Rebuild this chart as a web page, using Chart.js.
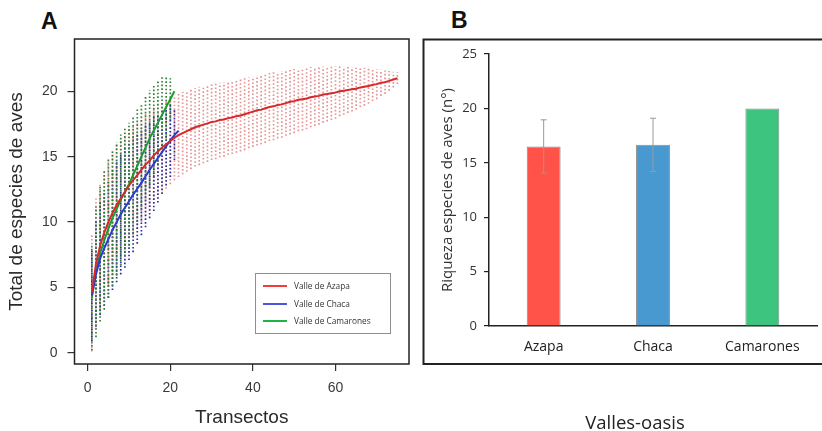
<!DOCTYPE html>
<html lang="es">
<head>
<meta charset="utf-8">
<script src="https://cdn.jsdelivr.net/npm/chart.js@4/dist/chart.umd.min.js"></script>
<style>
  html, body { margin: 0; padding: 0; background: #fff; }
  body { width: 822px; height: 431px; position: relative; overflow: hidden; font-family: 'Liberation Sans', Arial, sans-serif; }
  canvas { position: absolute; top: 0; }
  #graficoA { left: 0; }
  #graficoB { left: 420px; }
  .letra { position: absolute; font-weight: bold; font-size: 23px; line-height: 22px; color: #111; }
  #leyenda { position: absolute; left: 255px; top: 273px; width: 134px; height: 56px; border: 1px solid #8f8f8f; padding-top: 3px; box-sizing: content-box; font-family: 'Open Sans', sans-serif; font-size: 8.3px; color: #333; }
  #leyenda .item { height: 17.5px; line-height: 17.5px; position: relative; padding-left: 38px; white-space: nowrap; }
  #leyenda .muestra { position: absolute; left: 6.5px; top: 8px; width: 24px; height: 2px; }
  #tituloB { position: absolute; left: 535px; top: 410px; width: 200px; text-align: center; font-family: 'Open Sans', sans-serif; font-size: 18.5px; line-height: 24px; color: #222; }
</style>
</head>
<body>
<div class="letra" style="left:41px; top:10px">A</div>
<div class="letra" style="left:451px; top:9px">B</div>
<canvas id="graficoA" width="420" height="431"></canvas>
<canvas id="graficoB" width="402" height="431"></canvas>
<div id="leyenda"></div>
<div id="tituloB">Valles-oasis</div>
<script>
// Panel A: curvas de acumulacion (media por n de transectos, x = 1..n)
const azapaMedia = [4.6, 6.8, 8.2, 9.2, 10.0, 10.7, 11.3, 11.8, 12.3, 12.8,
  13.2, 13.6, 14.0, 14.4, 14.7, 15.1, 15.4, 15.7, 15.95, 16.2,
  16.45, 16.65, 16.8, 16.95, 17.1, 17.25, 17.35, 17.45, 17.55, 17.65,
  17.7, 17.8, 17.85, 17.95, 18.0, 18.1, 18.15, 18.25, 18.35, 18.45,
  18.55, 18.6, 18.7, 18.8, 18.85, 18.95, 19.0, 19.1, 19.2, 19.25,
  19.35, 19.4, 19.45, 19.55, 19.6, 19.65, 19.75, 19.8, 19.85, 19.9,
  20.0, 20.05, 20.1, 20.15, 20.2, 20.3, 20.35, 20.4, 20.5, 20.55,
  20.65, 20.7, 20.8, 20.9, 21.0];
const azapaIc = [4.5, 5.0, 4.8, 4.8, 4.8, 4.7, 4.6, 4.5, 4.4, 4.3,
  4.2, 4.1, 4.0, 3.9, 3.8, 3.7, 3.6, 3.5, 3.4, 3.3,
  3.25, 3.2, 3.15, 3.1, 3.05, 3.0, 3.0, 2.95, 2.95, 2.9,
  2.9, 2.85, 2.85, 2.8, 2.8, 2.8, 2.75, 2.75, 2.7, 2.7,
  2.7, 2.65, 2.65, 2.6, 2.6, 2.55, 2.55, 2.5, 2.5, 2.45,
  2.4, 2.4, 2.35, 2.3, 2.25, 2.2, 2.15, 2.1, 2.05, 2.0,
  1.9, 1.85, 1.75, 1.7, 1.6, 1.5, 1.45, 1.35, 1.25, 1.15,
  1.0, 0.9, 0.75, 0.6, 0.45];

const chacaMedia = [4.4, 6.0, 7.2, 8.0, 8.7, 9.4, 10.0, 10.6, 11.1, 11.6,
  12.1, 12.55, 13.0, 13.5, 14.0, 14.45, 14.9, 15.35, 15.8, 16.25,
  16.65, 17.0];
const chacaIc = [3.5, 4.0, 4.3, 4.4, 4.5, 4.6, 4.6, 4.6, 4.6, 4.5,
  4.4, 4.2, 4.0, 3.9, 3.7, 3.6, 3.4, 3.2, 3.0, 2.8,
  1.9, 0];

const camaronesMedia = [4.2, 6.2, 7.6, 8.6, 9.5, 10.3, 11.0, 11.7, 12.3, 12.9,
  13.6, 14.3, 15.0, 15.7, 16.4, 17.0, 17.6, 18.2, 18.8, 19.4,
  20.0];
const camaronesIc = [4.0, 5.0, 5.2, 5.3, 5.3, 5.2, 5.1, 5.0, 4.9, 4.7,
  4.5, 4.3, 4.1, 3.9, 3.7, 3.5, 3.2, 2.9, 2.4, 1.6,
  0];

const nombresSeries = ['Valle de Azapa', 'Valle de Chaca', 'Valle de Camarones'];
const ticksXA = [0, 20, 40, 60];
const ticksYA = [0, 5, 10, 15, 20];

// Panel B: riqueza por valle
const valles = ['Azapa', 'Chaca', 'Camarones'];
const riqueza = [16.5, 16.65, 20];
const riquezaError = [2.45, 2.45, null];

const coloresLinea = ['#d62a2a', '#2b3bd0', '#1f9a30'];
const coloresMuestra = ['#f43c3c', '#4a55e0', '#22b24a'];
const coloresPuntos = ['rgba(222,120,120,0.8)', '#2e2e9c', '#2d8036'];
const coloresBarras = ['#ff5249', '#4799d0', '#3dc47f'];

function puntosLinea(media) {
  return media.map((v, i) => ({ x: i + 1, y: v }));
}

function puntosColumnas(media, ic) {
  const pts = [];
  media.forEach((v, i) => {
    if (!ic[i]) return;
    pts.push({ x: i + 1, y: v - ic[i] }, { x: i + 1, y: v + ic[i] }, { x: i + 1, y: null });
  });
  return pts;
}

function datasetLinea(media, color) {
  return { data: puntosLinea(media), showLine: true, borderColor: color, borderWidth: 2, pointRadius: 0, tension: 0 };
}

function datasetColumnas(media, ic, color) {
  return {
    data: puntosColumnas(media, ic), showLine: true, spanGaps: false,
    borderColor: color, borderWidth: 1.7, borderDash: [1.6, 2.1], borderCapStyle: 'butt', pointRadius: 0
  };
}

// leyenda del panel A
const leyenda = document.getElementById('leyenda');
nombresSeries.forEach((nombre, i) => {
  const item = document.createElement('div');
  item.className = 'item';
  const muestra = document.createElement('span');
  muestra.className = 'muestra';
  muestra.style.background = coloresMuestra[i];
  item.appendChild(muestra);
  item.appendChild(document.createTextNode(nombre));
  leyenda.appendChild(item);
});

const marcoA = {
  id: 'marcoA',
  afterDraw(chart) {
    const { ctx, chartArea: a } = chart;
    ctx.save();
    ctx.strokeStyle = '#222';
    ctx.lineWidth = 1.5;
    ctx.strokeRect(a.left, a.top, a.right - a.left, a.bottom - a.top);
    ctx.restore();
  }
};

const fuenteA = { family: "'Liberation Sans', Arial, sans-serif", size: 14 };

new Chart(document.getElementById('graficoA'), {
  type: 'scatter',
  data: {
    datasets: [
      datasetLinea(azapaMedia, coloresLinea[0]),
      datasetLinea(chacaMedia, coloresLinea[1]),
      datasetLinea(camaronesMedia, coloresLinea[2]),
      datasetColumnas(camaronesMedia, camaronesIc, coloresPuntos[2]),
      datasetColumnas(chacaMedia, chacaIc, coloresPuntos[1]),
      datasetColumnas(azapaMedia, azapaIc, coloresPuntos[0])
    ]
  },
  options: {
    responsive: false,
    animation: false,
    layout: { padding: { left: 0, top: 39, right: 11, bottom: 0 } },
    plugins: { legend: { display: false }, tooltip: { enabled: false } },
    scales: {
      x: {
        type: 'linear', min: -3.2, max: 77.8,
        afterBuildTicks: s => { s.ticks = ticksXA.map(v => ({ value: v })); },
        afterFit: s => { s.height = 67; },
        ticks: { font: fuenteA, color: '#3a3a3a', padding: 9, maxRotation: 0 },
        grid: { drawOnChartArea: false, drawTicks: true, tickLength: 7, color: '#333', lineWidth: 1.2 },
        border: { display: false },
        title: { display: true, text: 'Transectos', font: { family: fuenteA.family, size: 19 }, color: '#2a2a2a', padding: { top: 0, bottom: 2 } }
      },
      y: {
        type: 'linear', min: -0.85, max: 24.0,
        afterBuildTicks: s => { s.ticks = ticksYA.map(v => ({ value: v })); },
        afterFit: s => { s.width = 74.5; },
        ticks: { font: fuenteA, color: '#3a3a3a', padding: 10 },
        grid: { drawOnChartArea: false, drawTicks: true, tickLength: 7, color: '#333', lineWidth: 1.2 },
        border: { display: false },
        title: { display: true, text: 'Total de especies de aves', font: { family: fuenteA.family, size: 19 }, color: '#2a2a2a', padding: { top: 5, bottom: 0 } }
      }
    }
  },
  plugins: [marcoA]
});

const marcoB = {
  id: 'marcoB',
  afterDraw(chart) {
    const ctx = chart.ctx;
    ctx.save();
    ctx.strokeStyle = '#222';
    ctx.lineWidth = 2;
    ctx.strokeRect(3.5, 39.5, 600, 324.5);
    ctx.restore();
  }
};

const fuenteB = { family: "'Open Sans', sans-serif", size: 13 };

const puntosError = [];
valles.forEach((v, i) => {
  if (riquezaError[i] == null) return;
  puntosError.push({ x: v, y: riqueza[i] - riquezaError[i] }, { x: v, y: riqueza[i] + riquezaError[i] }, { x: v, y: null });
});

new Chart(document.getElementById('graficoB'), {
  type: 'bar',
  data: {
    labels: valles,
    datasets: [
      {
        type: 'line', data: puntosError, showLine: true, spanGaps: false,
        borderColor: '#9a9a9a', borderWidth: 1, pointStyle: 'line', pointRadius: 3,
        pointBorderColor: '#9a9a9a', pointBorderWidth: 1, order: 0
      },
      {
        data: riqueza, backgroundColor: coloresBarras, borderColor: '#8a8a8a', borderWidth: 1,
        borderSkipped: 'bottom', barPercentage: 0.31, categoryPercentage: 1, order: 1
      }
    ]
  },
  options: {
    responsive: false,
    animation: false,
    layout: { padding: { left: 0, top: 54, right: 5, bottom: 0 } },
    plugins: { legend: { display: false }, tooltip: { enabled: false } },
    scales: {
      x: {
        afterFit: s => { s.height = 105; },
        ticks: { font: { family: fuenteB.family, size: 14 }, color: '#222', padding: 13 },
        grid: { drawOnChartArea: false, drawTicks: false },
        border: { display: true, color: '#222', width: 1.5 }
      },
      y: {
        min: 0, max: 25,
        afterFit: s => { s.width = 69; },
        ticks: { stepSize: 5, font: fuenteB, color: '#333', padding: 7 },
        grid: { drawOnChartArea: false, drawTicks: true, tickLength: 5, color: '#222', lineWidth: 1.2 },
        border: { display: true, color: '#222', width: 1.5 },
        title: { display: true, text: 'Riqueza especies de aves (n°)', font: { family: fuenteB.family, size: 15 }, color: '#333', padding: { top: 19, bottom: 0 } }
      }
    }
  },
  plugins: [marcoB]
});
</script>
</body>
</html>
